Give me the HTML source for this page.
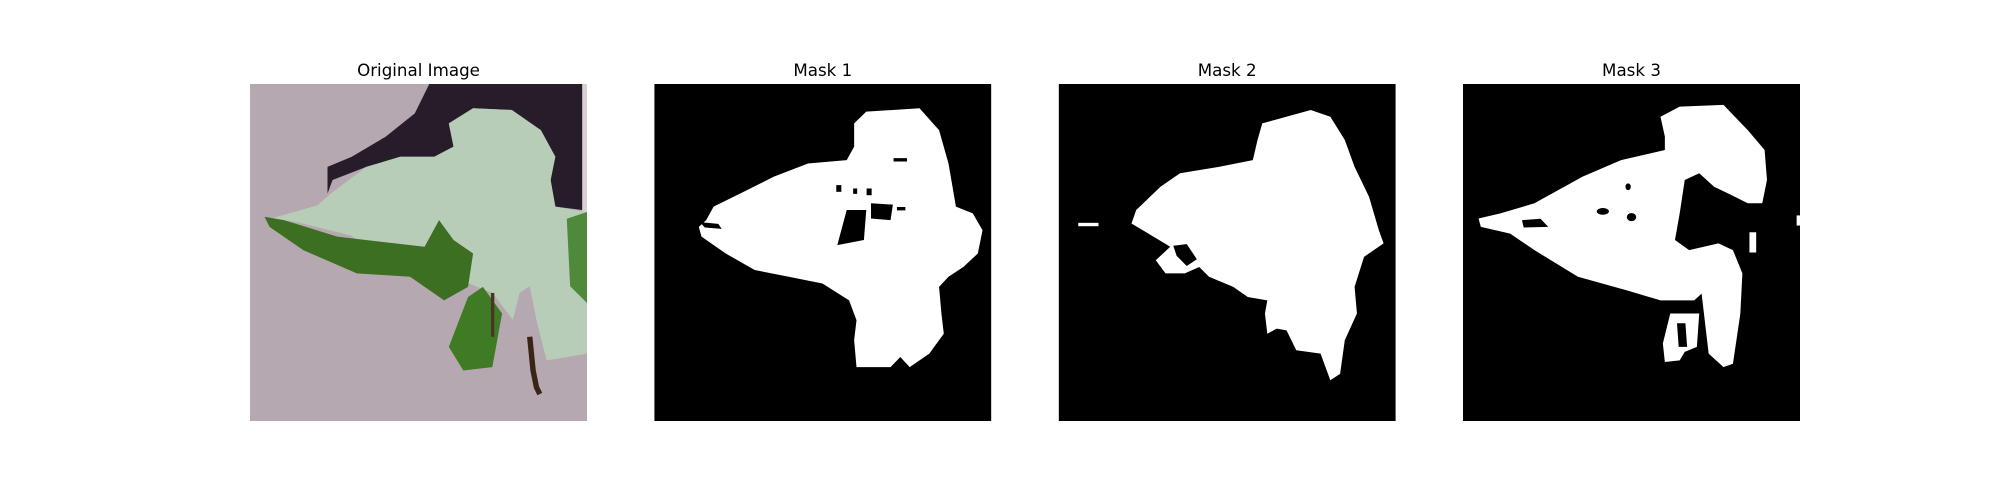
<!DOCTYPE html>
<html><head><meta charset="utf-8">
<style>
html,body{margin:0;padding:0;background:#fff;}
svg{display:block;}
text{font-family:"DejaVu Sans","Liberation Sans",sans-serif;font-size:16.7px;fill:#000;}
</style></head>
<body>
<svg width="2000" height="500" viewBox="0 0 2000 500">
  <rect width="2000" height="500" fill="#fff"/>

  <g>
    <text x="418.5" y="76" text-anchor="middle">Original Image</text>
    <svg x="250" y="84" width="337" height="337" viewBox="0 0 100 100" preserveAspectRatio="none">
      <rect width="100" height="100" fill="#b5a8b0"/>
      <polygon fill="#271d2a" points="53.2,0 98.6,0 98.6,37.4 90.6,36.4 89.2,28.5 90.6,21.6 86.3,13.7 77.7,7.7 66.2,7.2 59,11.7 60.4,18.6 54.7,21.6 44.6,21.6 34.5,24.6 24.5,28.5 23,32.5 23,24.6 30.2,21.6 40.3,15.6 48.9,8.7"/>
      <rect x="98.6" y="0" width="1.4" height="40" fill="#d8d0d6"/>
      <polygon fill="#b8cdb8" points="59,11.7 66.2,7.2 77.7,7.7 86.3,13.7 90.6,21.6 89.2,28.5 90.6,36.4 100,38 100,80 88,82 85,70 83,60 80,62 78,70 72,62 62,58 55,62 48,55 40,52 30,45 14,41 6,40 20,36 24,32.5 34.5,24.6 44.6,21.6 54.7,21.6 60.4,18.6"/>
      <polygon fill="#3d6f22" points="4.3,39.4 10.1,40.4 25.9,45.3 51.8,48.3 56.1,40.4 60.4,46.3 66.2,50.3 64.7,60.2 57.6,64.2 47.5,57.2 31.7,56.2 15.8,49.3 5.8,42.4"/>
      <polygon fill="#3f7a24" points="69.1,60.2 74.8,68.1 71.9,84 63.3,85 59,78 64.7,63.2"/>
      <polygon fill="#4f8a3a" points="94,40 100,38 100,65 95,60"/>
      <polyline fill="none" stroke="#3a2418" stroke-width="1.6" points="83,75 84,85 85,90 86,92"/>
      <polyline fill="none" stroke="#4a3424" stroke-width="1" points="72,62 72,75"/>
    </svg>
  </g>

  <g>
    <text x="822.8" y="76" text-anchor="middle">Mask 1</text>
    <svg x="654.3" y="84" width="337" height="337" viewBox="0 0 100 100" preserveAspectRatio="none">
      <rect width="100" height="100" fill="#000"/>
      <polygon fill="#fff" points="62.9,8.2 78.7,7.2 84.5,13.7 87.3,23.6 89.5,36.4 94.5,38.4 97.4,43.4 96,50.3 91.7,54.3 87.3,57.2 84.5,60.2 85.2,68.1 85.9,74.1 81.6,80 75.8,84 73,81 70.1,84 60,84 59.3,76 60,70.1 57.8,64.2 49.9,59.2 39.9,57.2 29.8,55.2 21.2,50.3 14,45.3 13.2,42.4 15.4,40.4 17.6,36.4 25.5,32.5 35.5,27.5 45.6,23.6 57.1,22.6 59.3,18.6 59.3,11.7"/>
      <polygon fill="#000" points="57.1,37.4 62.9,37.4 62.2,46.3 54.3,47.8"/>
      <polygon fill="#000" points="64.3,35.4 70.8,35.8 70.1,40.4 64.3,39.9"/>
      <polygon fill="#000" points="13.5,41 19,41.5 20,43 15,42.6"/>
      <rect x="54" y="30" width="1.5" height="2" fill="#000"/>
      <rect x="59" y="31" width="1.2" height="1.6" fill="#000"/>
      <rect x="63" y="31" width="1.5" height="2" fill="#000"/>
      <rect x="72" y="36.5" width="2.5" height="1" fill="#000"/>
      <rect x="71" y="22" width="4" height="1" fill="#000"/>
    </svg>
  </g>

  <g>
    <text x="1227.2" y="76" text-anchor="middle">Mask 2</text>
    <svg x="1058.7" y="84" width="337" height="337" viewBox="0 0 100 100" preserveAspectRatio="none">
      <rect width="100" height="100" fill="#000"/>
      <polygon fill="#fff" points="60.4,11.7 74.8,7.7 80.6,9.7 84.9,16.6 87.8,24.6 92.1,33.5 95,43.4 96.4,47.3 90.6,51.3 87.8,60.2 88.5,68.1 84.9,76 83.5,86 80.6,87.9 77.7,80 70.5,79 67.6,73.1 64.7,72.6 61.9,74.1 61.2,68.1 61.9,64.2 56.1,63.2 51.8,60.2 44.6,57.2 41.7,54.3 37.4,56.2 31.7,56.2 28.8,52.3 33.1,48.3 21.6,41.4 23,37.4 30.2,30.5 36,26.5 47.5,24.6 57.6,22.6 59,16.6"/>
      <polygon fill="#000" points="34,48 38,47.5 41,52 38,54 35,51"/>
      <rect x="5.8" y="41.2" width="6" height="1" fill="#fff"/>
    </svg>
  </g>

  <g>
    <text x="1631.5" y="76" text-anchor="middle">Mask 3</text>
    <svg x="1463" y="84" width="337" height="337" viewBox="0 0 100 100" preserveAspectRatio="none">
      <rect width="100" height="100" fill="#000"/>
      <polygon fill="#fff" points="58.6,9.7 64.3,6.7 77.3,6.2 84.5,13.7 89.5,19.6 90.2,28.5 88.8,35.4 84.5,35.4 78.7,32.5 74.5,30.5 70.1,26.5 65.8,28.5 64.3,38.4 62.9,46.3 67.1,49.3 75.8,47.3 80.1,49.3 82.9,56.2 82.3,68.1 80.1,83 77.3,84 72.9,80 70.8,62.2 68.6,64.2 58.6,64.2 48.5,61.2 34.1,57.2 21.2,49.3 14,44.4 5.3,42.4 4.6,39.9 11.1,38.4 21.2,35.4 35.5,27.5 46.9,22.6 59.9,19.6 59.9,15.6"/>
      <polygon fill="#fff" points="61.5,68.1 70.1,68.1 69.4,78 65.8,79.5 64.3,82 59.9,82.5 59.3,77"/>
      <polygon fill="#000" points="63.5,71 66,71 66.5,78 64,78"/>
      <polygon fill="#000" points="17.5,40.4 23,40 25.3,42.4 18,42.6"/>
      <ellipse cx="41.5" cy="37.8" rx="1.8" ry="1" fill="#000"/>
      <ellipse cx="50" cy="39.5" rx="1.4" ry="1.2" fill="#000"/>
      <ellipse cx="49" cy="30.5" rx="0.8" ry="1" fill="#000"/>
      <rect x="99" y="39" width="1" height="3" fill="#fff"/>
      <rect x="85" y="44" width="2" height="6" fill="#fff"/>
    </svg>
  </g>
</svg>
</body></html>
